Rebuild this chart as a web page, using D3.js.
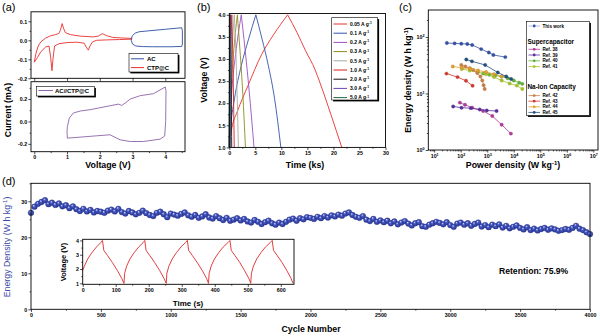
<!DOCTYPE html>
<html>
<head>
<meta charset="utf-8">
<script src="https://cdn.jsdelivr.net/npm/d3@7"></script>
<style>
  body { margin: 0; background: #fff; }
  svg { display: block; }
</style>
</head>
<body>
<svg id="fig" width="600" height="336"></svg>
<script>
// ---- (a) cyclic voltammetry, [V, mA] ----
const cvCtp = [[0.0,-0.115],[0.05,-0.07],[0.12,-0.03],[0.2,-0.008],[0.35,0.012],[0.5,0.024],[0.65,0.03],[0.75,0.036],
  [0.8,0.055],[0.85,0.088],[0.9,0.06],[0.95,0.04],[1.1,0.03],[1.4,0.022],[1.8,0.018],[1.95,0.022],[2.08,0.035],
  [2.2,0.025],[2.4,0.015],[2.7,0.012],[2.98,0.01],[2.98,0.006],[2.6,0.004],[2.2,0.002],[1.9,0.0],[1.78,-0.008],
  [1.7,-0.03],[1.65,-0.052],[1.6,-0.04],[1.52,-0.015],[1.3,-0.01],[1.0,-0.012],[0.75,-0.018],[0.62,-0.03],
  [0.57,-0.1],[0.54,-0.16],[0.5,-0.09],[0.45,-0.03],[0.35,-0.035],[0.2,-0.06],[0.1,-0.09],[0.0,-0.115]];
const cvAc = [[2.96,0.008],[3.0,0.025],[3.08,0.038],[3.2,0.045],[3.5,0.05],[4.0,0.058],[4.5,0.066],[4.52,0.05],
  [4.52,-0.02],[4.5,-0.032],[4.2,-0.034],[3.6,-0.034],[3.3,-0.033],[3.1,-0.03],[3.0,-0.02],[2.96,0.0],[2.96,0.008]];
const cvFull = [[1.01,-0.149],[1.0,-0.09],[1.01,-0.045],[1.07,0.03],[1.19,0.075],[1.4,0.093],[1.7,0.105],[2.0,0.122],
  [2.31,0.14],[2.57,0.155],[2.67,0.143],[2.8,0.17],[2.93,0.2],[3.23,0.23],[3.64,0.248],[4.0,0.308],[4.02,0.27],
  [4.01,0.0],[3.98,-0.13],[3.84,-0.158],[3.33,-0.179],[2.93,-0.179],[2.62,-0.164],[2.31,-0.119],[1.91,-0.128],
  [1.4,-0.14],[1.01,-0.149]];

// ---- (b) charge/discharge at each current density, [ks, V] ----
const gcdRates = ['0.05', '0.1', '0.2', '0.3', '0.5', '1.0', '2.0', '3.0', '5.0'];
const gcdColors = ['#e8302c', '#3454a8', '#9b4fc0', '#8c8a1c', '#a3aba3', '#d8201e', '#111111', '#6a42b0', '#1f6f47'];
const gcdCurves = [
  [[0,1.0],[0.2,1.25],[0.5,1.45],[1.5,1.8],[3.6,2.4],[6.2,3.1],[8.5,3.55],[11.2,4.0],[13,3.6],[14.6,3.2],[16.5,2.75],[17.3,2.5],[19.5,1.75],[21.6,1.0]],
  [[0,1.0],[0.3,1.5],[1.0,2.1],[2.3,2.85],[3.7,3.45],[5.1,4.0],[6.3,3.45],[7.5,2.85],[8.7,2.1],[9.9,1.0]],
  [[0,1.0],[0.1,1.5],[0.5,2.3],[1.2,3.1],[2.3,4.0],[3.0,3.25],[3.8,2.3],[4.75,1.0]],
  [[0,1.0],[0.07,1.5],[0.35,2.3],[0.8,3.1],[1.55,4.0],[2.05,3.2],[2.6,2.2],[3.1,1.0]],
  [[0,1.0],[0.05,1.5],[0.22,2.3],[0.5,3.1],[0.95,4.0],[1.25,3.2],[1.5,2.2],[1.75,1.0]],
  [[0,1.0],[0.03,1.6],[0.15,2.5],[0.48,4.0],[0.7,2.9],[0.95,1.0]],
  [[0,1.0],[0.02,1.7],[0.08,2.6],[0.23,4.0],[0.35,2.8],[0.46,1.0]],
  [[0,1.0],[0.01,1.7],[0.05,2.6],[0.14,4.0],[0.21,2.8],[0.28,1.0]],
  [[0,1.0],[0.01,1.8],[0.03,2.7],[0.08,4.0],[0.12,2.8],[0.16,1.0]]
];

// ---- (c) Ragone plot, [W/kg, Wh/kg] ----
const ragoneNames = ['This work', 'Ref. 38', 'Ref. 39', 'Ref. 40', 'Ref. 41', 'Ref. 42', 'Ref. 43', 'Ref. 44', 'Ref. 45'];
const ragoneColors = ['#3550a8', '#b23a98', '#5a30a0', '#62b236', '#a8c22a', '#c98048', '#d43a30', '#e0a030', '#22507e'];
const ragoneData = [
  [[30,78],[59,77],[105,76],[177,75],[270,72],[590,61],[1150,53],[1700,48],[4800,44]],
  [[93,6.9],[145,6.3],[270,5.6],[700,4.9],[1550,4.0],[3500,2.8],[7800,1.95]],
  [[52,5.9],[107,5.6],[240,5.5],[520,5.2],[960,5.0],[2250,4.9]],
  [[700,22.5],[1200,21.5],[2000,20.8],[3500,20],[6000,18.5],[10000,17],[16000,15.5],[21000,14.8]],
  [[110,27],[220,25.5],[450,24],[900,22],[1800,19.5],[3500,17],[7000,15],[13000,13.8],[21000,12]],
  [[105,32],[150,30],[220,28],[300,26],[420,23],[550,20],[650,17],[730,14],[800,12]],
  [[29,22.5],[76,19.5],[158,16.8],[280,13.7]],
  [[50,30],[110,28.5],[230,27.5],[450,25.5],[900,24],[1800,22],[3500,20]],
  [[162,40],[265,37],[835,32],[2500,23.5],[5200,20],[8000,18]]
];

// ---- (d) cycling, one point every 25 cycles ----
const cycles = d3.range(0, 4001, 25);
const energy = [26.8,28.5,29.3,29.8,30.3,29.2,29.6,29.0,29.4,28.6,28.9,28.1,28.6,27.8,27.3,27.9,27.2,27.6,26.9,27.3,
  27.1,26.8,27.4,27.7,27.2,27.9,27.0,26.6,27.3,26.9,26.4,26.8,27.4,26.7,26.2,25.9,26.8,27.1,26.4,25.6,
  26.6,26.3,26.0,26.5,26.9,26.1,25.7,26.2,25.4,25.8,26.4,25.5,25.2,25.9,25.3,24.8,25.4,24.6,24.9,25.3,
  24.7,25.1,24.4,24.1,24.8,24.3,23.7,24.2,24.6,23.9,23.5,24.1,23.7,24.3,24.9,25.2,24.6,25.3,25.0,25.6,
  25.4,25.1,25.7,25.3,25.9,25.5,26.1,25.8,26.3,26.0,26.6,26.9,26.2,25.7,25.4,25.9,24.9,24.5,25.1,24.3,
  24.7,24.2,24.6,23.9,24.4,23.6,24.1,24.5,23.8,23.3,23.9,24.2,23.1,22.9,23.5,23.9,24.3,24.0,23.6,24.2,
  23.4,22.9,23.8,24.1,23.5,23.9,23.2,23.7,24.1,23.0,23.4,22.8,23.5,23.1,23.6,22.7,23.2,22.5,22.9,23.3,
  22.6,22.2,22.8,22.0,22.4,21.9,22.3,22.6,22.1,22.5,22.2,21.8,22.0,22.3,22.1,22.6,23.2,22.4,22.0,21.4,20.9];

// inset: voltage profile of the first cycles, [s, V]
const insetProfile = [[0,1.9],[5,2.2],[15,2.7],[28,3.15],[42,3.55],[55,3.85],[60,4.0],[64,3.3],[75,2.95],[90,2.45],[105,1.9],[118,1.35],[125,1.0],
  [127,1.7],[133,2.2],[143,2.7],[156,3.15],[170,3.55],[183,3.85],[188,4.0],[192,3.3],[203,2.95],[218,2.45],[233,1.9],[246,1.35],[253,1.0],
  [255,1.7],[261,2.2],[271,2.7],[284,3.15],[298,3.55],[311,3.85],[317,4.0],[321,3.3],[332,2.95],[347,2.45],[362,1.9],[375,1.35],[381,1.0],
  [383,1.7],[389,2.2],[399,2.7],[412,3.15],[426,3.55],[440,3.85],[446,4.0],[450,3.3],[461,2.95],[476,2.45],[490,1.9],[503,1.35],[509,1.0],
  [511,1.7],[517,2.2],[527,2.7],[540,3.15],[554,3.55],[568,3.85],[574,4.0],[578,3.3],[589,2.95],[604,2.45],[618,1.9],[631,1.35],[637,1.0]];

const FONT = '"Liberation Sans", Arial, Helvetica, sans-serif';
const svg = d3.select('#fig').attr('font-family', FONT);

// text with optional superscripts: parts are strings or {s: '...'}
function rich(g, x, y, parts, fs, o = {}) {
  const t = g.append('text').attr('x', x).attr('y', y)
    .attr('font-size', fs).attr('font-weight', o.weight || 'bold')
    .attr('text-anchor', o.anchor || 'start').attr('fill', o.fill || '#000');
  if (o.rotate) t.attr('transform', `rotate(-90,${x},${y})`);
  const lift = fs * 0.38;
  let up = false;
  parts.forEach(p => {
    if (typeof p === 'string') {
      const s = t.append('tspan').text(p);
      if (up) s.attr('dy', lift);
      up = false;
    } else {
      t.append('tspan').attr('dy', -lift).attr('font-size', fs * 0.68).text(p.s);
      up = true;
    }
  });
  return t;
}

function axis(g, gen, tx, ty, fs) {
  const a = g.append('g').attr('transform', `translate(${tx},${ty})`).call(gen);
  a.select('.domain').remove();
  a.selectAll('line').attr('stroke', '#000').attr('stroke-width', 0.7);
  a.selectAll('text').attr('font-size', fs).attr('font-weight', 'bold').attr('font-family', FONT).attr('fill', '#000');
  return a;
}

function frame(g, x0, x1, y0, y1) {
  g.append('rect').attr('x', x0).attr('y', y0).attr('width', x1 - x0).attr('height', y1 - y0)
    .attr('fill', 'none').attr('stroke', '#000').attr('stroke-width', 0.9);
}

function legendBox(g, x, y, w, h) {
  g.append('rect').attr('x', x + 1.4).attr('y', y + 1.4).attr('width', w).attr('height', h).attr('fill', '#000');
  g.append('rect').attr('x', x).attr('y', y).attr('width', w).attr('height', h)
    .attr('fill', '#fff').attr('stroke', '#000').attr('stroke-width', 0.6);
}

const TF = 5.3;   // tick label size
const LF = 8.8;   // axis title size
const MJ = 2.6, MN = 1.4;   // major / minor tick lengths

// ================= (a) =================
const gA = svg.append('g');
const xA = d3.scaleLinear([-0.1, 4.6], [31, 185]);
const yA1 = d3.scaleLinear([-0.2, 0.15], [78.3, 11.8]);
const yA2 = d3.scaleLinear([-0.27, 0.355], [151.7, 81.7]);

axis(gA, d3.axisLeft(yA1).tickValues([-0.2, -0.1, 0, 0.1]).tickFormat(d => d.toFixed(1)).tickSize(MJ).tickPadding(1.2), 31, 0, TF);
axis(gA, d3.axisLeft(yA1).tickValues([-0.15, -0.05, 0.05]).tickFormat('').tickSize(MN), 31, 0, TF);
axis(gA, d3.axisBottom(xA).tickValues([0, 1, 2, 3, 4]).tickFormat('').tickSize(MJ), 0, 78.3, TF);
axis(gA, d3.axisLeft(yA2).tickValues([-0.2, 0, 0.2]).tickFormat(d => d.toFixed(1)).tickSize(MJ).tickPadding(1.2), 31, 0, TF);
axis(gA, d3.axisLeft(yA2).tickValues([-0.1, 0.1, 0.3]).tickFormat('').tickSize(MN), 31, 0, TF);
axis(gA, d3.axisBottom(xA).tickValues([0, 1, 2, 3, 4]).tickFormat(d3.format('d')).tickSize(MJ).tickPadding(0.8), 0, 151.7, TF);
axis(gA, d3.axisBottom(xA).tickValues([0.5, 1.5, 2.5, 3.5, 4.5]).tickFormat('').tickSize(MN), 0, 151.7, TF);

const lineA1 = d3.line().x(d => xA(d[0])).y(d => yA1(d[1]));
const lineA2 = d3.line().x(d => xA(d[0])).y(d => yA2(d[1]));
gA.append('path').attr('d', lineA1(cvCtp)).attr('fill', 'none').attr('stroke', '#e8302c').attr('stroke-width', 0.9);
gA.append('path').attr('d', lineA1(cvAc)).attr('fill', 'none').attr('stroke', '#2c4fa0').attr('stroke-width', 0.9);
gA.append('path').attr('d', lineA2(cvFull)).attr('fill', 'none').attr('stroke', '#8c64a8').attr('stroke-width', 0.9);
frame(gA, 31, 185, 11.8, 78.3);
frame(gA, 31, 185, 81.7, 151.7);

legendBox(gA, 129, 53.5, 49, 18.5);
[['AC', '#2c4fa0', 58.8], ['CTP@C', '#e8302c', 67.6]].forEach(([name, c, y]) => {
  gA.append('line').attr('x1', 131).attr('x2', 144).attr('y1', y).attr('y2', y).attr('stroke', c).attr('stroke-width', 1);
  rich(gA, 147, y + 2, [name], 6);
});
legendBox(gA, 36.5, 86.5, 58, 9.5);
gA.append('line').attr('x1', 38.5).attr('x2', 53).attr('y1', 90.5).attr('y2', 90.5).attr('stroke', '#8c64a8').attr('stroke-width', 1);
rich(gA, 55, 92.7, ['AC//CTP@C'], 6);

rich(gA, 108, 168, ['Voltage (V)'], LF, { anchor: 'middle' });
rich(gA, 11, 110, ['Current (mA)'], LF, { anchor: 'middle', rotate: true });
rich(gA, 2, 11, ['(a)'], 11, { weight: 'normal' });

// ================= (b) =================
const gB = svg.append('g');
const xB = d3.scaleLinear([0, 30], [229.3, 385.5]);
const yB = d3.scaleLinear([1, 4.03], [147.4, 13.5]);

axis(gB, d3.axisLeft(yB).tickValues(d3.range(1, 4.01, 0.5)).tickFormat(d3.format('.1f')).tickSize(MJ).tickPadding(1.2), 229.3, 0, TF);
axis(gB, d3.axisLeft(yB).tickValues(d3.range(1.25, 4, 0.5)).tickFormat('').tickSize(MN), 229.3, 0, TF);
axis(gB, d3.axisBottom(xB).tickValues(d3.range(0, 31, 5)).tickFormat(d3.format('d')).tickSize(MJ).tickPadding(0.8), 0, 147.4, TF);
axis(gB, d3.axisBottom(xB).tickValues(d3.range(2.5, 30, 5)).tickFormat('').tickSize(MN), 0, 147.4, TF);

const lineB = d3.line().x(d => xB(d[0])).y(d => yB(d[1])).curve(d3.curveMonotoneX);
gcdCurves.forEach((c, i) => {
  // charge and discharge halves drawn separately so the peak stays sharp
  const top = c.findIndex(e => e[1] === 4.0);
  [c.slice(0, top + 1), c.slice(top)].forEach(seg => gB.append('path').attr('d', lineB(seg)).attr('fill', 'none')
    .attr('stroke', gcdColors[i]).attr('stroke-width', 0.9));
});
frame(gB, 229.3, 385.5, 13.5, 147.4);

legendBox(gB, 331.7, 17.7, 46, 82.3);
gcdRates.forEach((r, i) => {
  const y = 24 + i * 9.2;
  gB.append('line').attr('x1', 333.5).attr('x2', 347).attr('y1', y).attr('y2', y)
    .attr('stroke', gcdColors[i]).attr('stroke-width', 1);
  rich(gB, 350, y + 1.8, [r + ' A g', { s: '-1' }], 5);
});

rich(gB, 305, 168, ['Time (ks)'], LF, { anchor: 'middle' });
rich(gB, 207, 80, ['Voltage (V)'], LF, { anchor: 'middle', rotate: true });
rich(gB, 197, 11, ['(b)'], 11, { weight: 'normal' });

// ================= (c) =================
const gC = svg.append('g');
const xC = d3.scaleLog([6, 1.5e7], [428.3, 598]);
const yC = d3.scaleLog([1, 300], [150, 10]);

function powLabels(a, fs) {
  a.selectAll('.tick text').each(function (d) {
    const t = d3.select(this).text(null);
    t.append('tspan').text('10');
    t.append('tspan').attr('dy', -fs * 0.4).attr('font-size', fs * 0.7).text(Math.round(Math.log10(d)));
  });
}
const minorC = (lo, hi) => {
  const v = [];
  for (let e = Math.floor(Math.log10(lo)); e <= Math.ceil(Math.log10(hi)); e++)
    for (let m = 2; m <= 9; m++) { const x = m * Math.pow(10, e); if (x > lo && x < hi) v.push(x); }
  return v;
};
powLabels(axis(gC, d3.axisLeft(yC).tickValues([1, 10, 100]).tickSize(MJ).tickPadding(1.2), 428.3, 0, TF), TF);
axis(gC, d3.axisLeft(yC).tickValues(minorC(1, 300)).tickFormat('').tickSize(MN), 428.3, 0, TF);
powLabels(axis(gC, d3.axisBottom(xC).tickValues([1e1, 1e2, 1e3, 1e4, 1e5, 1e6, 1e7]).tickSize(MJ).tickPadding(1.5), 0, 150, TF), TF);
axis(gC, d3.axisBottom(xC).tickValues(minorC(6, 1.5e7)).tickFormat('').tickSize(MN), 0, 150, TF);

const lineC = d3.line().x(d => xC(d[0])).y(d => yC(d[1]));
ragoneData.forEach((s, i) => {
  gC.append('path').attr('d', lineC(s)).attr('fill', 'none').attr('stroke', ragoneColors[i]).attr('stroke-width', 0.8);
  gC.selectAll(null).data(s).join('circle')
    .attr('cx', d => xC(d[0])).attr('cy', d => yC(d[1])).attr('r', 1.7)
    .attr('fill', ragoneColors[i]).attr('stroke', d3.color(ragoneColors[i]).darker(0.6)).attr('stroke-width', 0.3);
});
frame(gC, 428.3, 598, 10, 150);

legendBox(gC, 526.5, 21.5, 63, 94);
const legRows = [26, 49.3, 55, 60.8, 66.6, 95.6, 101.2, 106.8, 112.4];
ragoneNames.forEach((n, i) => {
  const y = legRows[i];
  const c = ragoneColors[i];
  gC.append('line').attr('x1', 528.5).attr('x2', 540).attr('y1', y).attr('y2', y)
    .attr('stroke', i === 0 ? '#9fb0d8' : c).attr('stroke-width', 0.8);
  gC.append('circle').attr('cx', 534.2).attr('cy', y).attr('r', 1.4).attr('fill', c);
  rich(gC, 542.5, y + 1.6, [n], 4.6);
});
rich(gC, 527.5, 43.5, ['Supercapacitor'], 6.4);
rich(gC, 527.5, 89, ['Na-Ion Capacity'], 6.4);

rich(gC, 513, 168, ['Power density (W kg', { s: '-1' }, ')'], LF, { anchor: 'middle' });
rich(gC, 411, 80, ['Energy density (W h kg', { s: '-1' }, ')'], LF, { anchor: 'middle', rotate: true });
rich(gC, 399, 11, ['(c)'], 11, { weight: 'normal' });

// ================= (d) =================
const gD = svg.append('g');
const xD = d3.scaleLinear([0, 4000], [31, 590]);
const yD = d3.scaleLinear([0, 35], [309.3, 183.3]);

const defs = svg.append('defs');
const grad = defs.append('radialGradient').attr('id', 'ball').attr('cx', '50%').attr('cy', '50%').attr('r', '55%')
  .attr('fx', '35%').attr('fy', '30%');
grad.append('stop').attr('offset', '0%').attr('stop-color', '#dfe4ff');
grad.append('stop').attr('offset', '35%').attr('stop-color', '#4a5cc6');
grad.append('stop').attr('offset', '100%').attr('stop-color', '#25318a');

axis(gD, d3.axisLeft(yD).tickValues([0, 10, 20, 30]).tickFormat(d3.format('d')).tickSize(MJ).tickPadding(1.2), 31, 0, TF);
axis(gD, d3.axisLeft(yD).tickValues([5, 15, 25, 35]).tickFormat('').tickSize(MN), 31, 0, TF);
axis(gD, d3.axisBottom(xD).tickValues(d3.range(0, 4001, 500)).tickFormat(d3.format('d')).tickSize(MJ).tickPadding(1.2), 0, 309.3, TF);
axis(gD, d3.axisBottom(xD).tickValues(d3.range(250, 4000, 500)).tickFormat('').tickSize(MN), 0, 309.3, TF);

gD.selectAll(null).data(cycles).join('circle')
  .attr('cx', d => xD(d)).attr('cy', (d, i) => yD(energy[i])).attr('r', 2.9)
  .attr('fill', 'url(#ball)').attr('stroke', '#26328c').attr('stroke-width', 0.3);
frame(gD, 31, 590, 183.3, 309.3);

rich(gD, 311, 332, ['Cycle Number'], LF, { anchor: 'middle' });
rich(gD, 10, 247, ['Energy Density (W h kg', { s: '-1' }, ')'], LF, { anchor: 'middle', rotate: true, fill: '#3a4aa4', weight: 'normal' });
rich(gD, 2, 185, ['(d)'], 11, { weight: 'normal' });
rich(gD, 499, 274, ['Retention: 75.9%'], 8.6);

// inset
const gI = gD.append('g');
const xI = d3.scaleLinear([0, 640], [82.7, 294]);
const yI = d3.scaleLinear([0.93, 4.08], [284.3, 239.3]);
axis(gI, d3.axisLeft(yI).tickValues([1, 2, 3, 4]).tickFormat(d3.format('d')).tickSize(MJ).tickPadding(1.2), 82.7, 0, TF);
axis(gI, d3.axisLeft(yI).tickValues([1.5, 2.5, 3.5]).tickFormat('').tickSize(MN), 82.7, 0, TF);
axis(gI, d3.axisBottom(xI).tickValues(d3.range(0, 601, 100)).tickFormat(d3.format('d')).tickSize(MJ).tickPadding(1.2), 0, 284.3, TF);
axis(gI, d3.axisBottom(xI).tickValues(d3.range(50, 640, 100)).tickFormat('').tickSize(MN), 0, 284.3, TF);
const lineI = d3.line().x(d => xI(d[0])).y(d => yI(d[1]));
gI.append('path').attr('d', lineI(insetProfile)).attr('fill', 'none').attr('stroke', '#dd2a2a').attr('stroke-width', 0.9);
frame(gI, 82.7, 294, 239.3, 284.3);
rich(gI, 188, 305.5, ['Time (s)'], 8, { anchor: 'middle' });
rich(gI, 66, 262, ['Voltage (V)'], 7.5, { anchor: 'middle', rotate: true });
</script>
</body>
</html>
